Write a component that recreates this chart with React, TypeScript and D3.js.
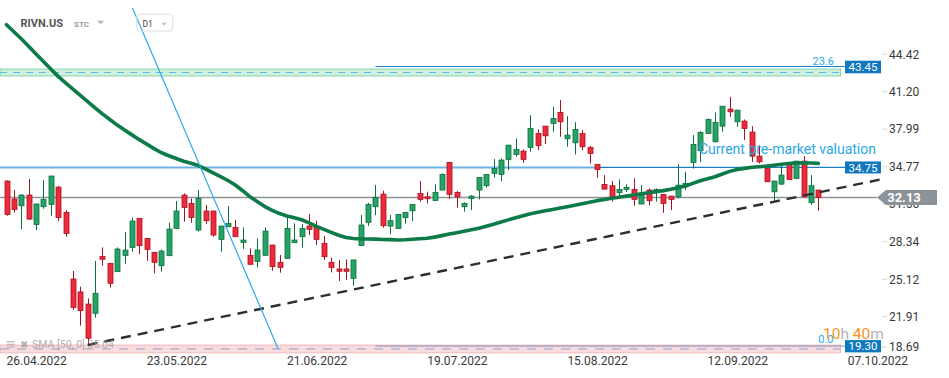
import React from "react";
import * as d3 from "d3";

const open = [33.54,32.0,31.42,32.34,29.82,31.34,31.54,33.02,30.85,25.14,24.03,22.99,22.2,27.08,26.48,25.77,27.17,27.85,30.34,28.62,27.43,26.28,27.14,29.48,32.34,31.62,29.34,30.97,30.97,28.54,29.62,29.57,28.28,27.17,26.65,27.17,28.05,26.57,26.91,28.25,28.77,29.68,29.65,28.2,26.57,26.0,26.0,25.2,28.02,30.0,31.34,32.42,29.68,29.48,30.4,30.99,32.48,32.19,31.88,32.77,35.14,32.57,31.34,32.05,32.77,33.14,34.2,34.11,35.4,35.82,36.11,36.42,37.62,38.25,38.48,39.42,37.17,36.82,37.62,36.42,34.97,33.25,33.14,32.54,32.82,32.82,31.57,32.77,32.54,32.39,32.25,32.19,33.05,35.14,36.14,37.62,36.91,38.25,39.71,38.62,38.68,37.74,35.68,34.62,32.62,33.28,34.99,33.77,35.25,31.68,32.77];
const high = [33.6,32.77,32.4,33.71,31.6,33.62,34.0,33.11,31.05,25.83,24.48,23.48,26.68,27.85,26.5,27.85,29.17,30.4,30.36,28.64,27.45,27.68,29.97,31.82,32.48,32.05,32.77,31.48,30.99,29.7,31.4,30.2,29.57,27.77,28.62,29.57,28.07,27.2,30.4,29.91,29.85,30.71,30.14,28.82,26.97,26.77,26.82,26.79,30.62,31.68,33.2,32.71,30.62,30.7,30.87,31.56,33.54,32.62,33.25,34.2,35.2,32.68,31.71,32.34,33.87,34.13,35.42,35.48,36.64,37.19,36.25,39.19,37.96,38.27,39.91,40.48,39.11,38.59,37.91,36.57,34.99,34.05,33.54,33.68,33.25,33.77,33.19,32.91,32.91,32.41,32.27,34.99,34.34,37.48,37.82,38.91,39.42,39.98,40.76,39.65,38.82,38.25,36.62,34.64,33.56,34.82,35.01,35.27,35.68,34.05,32.79];
const low = [30.57,30.85,29.42,30.2,29.34,31.17,30.57,30.11,28.77,22.51,21.14,19.48,21.83,26.28,24.4,25.77,26.45,27.48,27.28,26.71,25.63,25.77,27.12,29.46,30.05,29.97,29.2,29.85,28.77,27.48,29.6,28.75,27.71,26.38,26.14,27.15,25.85,25.68,26.89,28.23,27.83,28.91,28.05,26.77,25.71,24.97,25.05,24.57,28.0,29.68,30.62,29.54,28.99,29.46,29.9,30.1,31.77,31.62,31.86,32.75,32.02,31.25,30.91,31.05,31.97,32.97,33.85,33.54,34.48,35.62,35.11,36.05,36.19,36.71,37.77,37.34,36.48,35.82,36.19,35.05,33.82,32.83,31.77,32.14,32.62,31.42,31.55,31.45,31.77,30.82,31.05,32.05,32.77,34.62,35.19,37.6,36.85,37.77,39.05,38.19,37.05,35.19,35.05,33.46,31.85,33.19,33.66,33.75,32.17,31.48,30.99];
const close = [30.68,31.11,32.34,30.28,31.57,31.97,33.97,30.4,29.05,22.71,22.43,20.06,23.91,26.83,24.77,27.71,27.62,30.11,28.0,27.68,26.57,27.54,29.42,30.97,31.28,30.42,32.05,30.14,28.91,29.68,29.91,28.77,28.48,26.4,27.62,29.25,26.2,26.14,29.48,28.48,29.48,29.4,28.54,27.05,26.14,25.8,25.8,26.77,29.77,31.54,32.14,29.71,30.14,30.68,30.85,31.54,31.97,32.02,32.57,34.11,32.4,32.19,31.62,32.25,33.85,34.11,34.62,35.34,36.62,36.25,35.4,38.05,36.57,37.42,38.91,38.62,37.48,37.96,36.48,35.91,34.54,32.85,32.14,32.82,32.99,31.97,32.42,31.85,32.82,31.62,31.97,33.19,33.34,36.68,37.71,38.82,38.57,39.96,39.48,39.62,38.05,35.68,35.19,33.48,33.54,34.05,33.68,35.25,32.19,33.14,32.14];
const sma50 = [46.95,46.35,45.75,45.11,44.44,43.79,43.15,42.52,41.96,41.42,40.88,40.35,39.81,39.30,38.82,38.34,37.91,37.50,37.09,36.71,36.32,35.97,35.71,35.47,35.24,35.06,34.87,34.57,34.25,33.92,33.59,33.20,32.71,32.19,31.77,31.35,31.03,30.75,30.55,30.40,30.22,29.96,29.65,29.39,29.14,28.89,28.70,28.61,28.57,28.57,28.56,28.53,28.52,28.49,28.51,28.55,28.59,28.64,28.73,28.86,28.99,29.11,29.24,29.36,29.49,29.66,29.84,30.02,30.21,30.39,30.56,30.74,30.87,30.99,31.10,31.22,31.34,31.47,31.60,31.73,31.86,31.96,32.06,32.15,32.25,32.35,32.44,32.54,32.63,32.72,32.83,32.96,33.12,33.34,33.57,33.74,33.91,34.14,34.37,34.54,34.63,34.72,34.77,34.82,34.90,34.98,35.04,35.10,35.10,35.09,35.06];

const xTickLabels = ["26.04.2022","23.05.2022","21.06.2022","19.07.2022","15.08.2022","12.09.2022","07.10.2022"];
const xTickBars = [0,19,38,57,76,95,114];
const yTickLabels = ["44.42","41.20","37.99","34.77","31.56","28.34","25.12","21.91","18.69"];

const lastPrice = 32.13;
const preMarket = 34.75;
const fibTop = { level: "23.6", price: 43.45, startBar: 50 };
const fibBottom = { level: "0.0", price: 19.30, startBar: 50 };
const greenZone = [43.15, 42.55];
const pinkZone = [19.47, 18.81];
const trendBars = [11, 118.4];
const trendPrices = [19.48, 33.67];
const diagBars = [17.07, 36.83];
const diagPrices = [48.38, 19.11];

const W = 949, H = 378;
const FONT = "Roboto, 'Open Sans', sans-serif";

export default function App() {
  const x = d3.scaleLinear().domain([0, 114]).range([6.5, 6.5 + 114 * 7.38]);
  const y = d3.scaleLinear().domain([18.69, 44.42]).range([354.2, 54.2]);
  const plotRight = 840.5;
  const bw = 5;

  const smaLine = d3.line<number>().x((_, i) => x(i)).y((d) => y(d))(sma50) || "";

  const candles = open.map((o, i) => {
    const c = close[i];
    const up = c >= o;
    const fill = up ? "#25a466" : "#ee2b3d";
    const stroke = up ? "#0d6e3f" : "#a8121f";
    const cx = Math.round(x(i)) + 0.5;
    const top = y(Math.max(o, c));
    const bot = y(Math.min(o, c));
    return (
      <g key={i}>
        <line x1={cx} x2={cx} y1={y(high[i])} y2={y(low[i])} stroke={stroke} strokeWidth={1} />
        <rect x={cx - bw / 2} y={top} width={bw} height={Math.max(1, bot - top)} fill={fill} stroke={stroke} strokeWidth={0.8} />
      </g>
    );
  });

  const lpY = y(lastPrice);
  const pmY = y(preMarket);

  return (
    <svg width={W} height={H} style={{ position: "absolute", left: 0, top: 0, background: "#fff" }} fontFamily={FONT}>
      <rect x={0} y={0} width={W} height={H} fill="#fff" />
      {/* zones */}
      <rect x={0} y={y(greenZone[0])} width={plotRight} height={y(greenZone[1]) - y(greenZone[0])} fill="#cfefdf" stroke="#86d9b2" strokeWidth={1} />
      <line x1={0} x2={plotRight} y1={(y(greenZone[0]) + y(greenZone[1])) / 2} y2={(y(greenZone[0]) + y(greenZone[1])) / 2} stroke="#5bbde6" strokeWidth={1} strokeDasharray="7 6" />
      <rect x={0} y={y(pinkZone[0])} width={plotRight} height={y(pinkZone[1]) - y(pinkZone[0])} fill="#fbdcdd" stroke="#f2b8bb" strokeWidth={1} />
      <line x1={0} x2={plotRight} y1={(y(pinkZone[0]) + y(pinkZone[1])) / 2} y2={(y(pinkZone[0]) + y(pinkZone[1])) / 2} stroke="#8fa0c6" strokeWidth={1} strokeDasharray="9 8" />

      {/* fib lines */}
      <line x1={x(fibTop.startBar)} x2={845} y1={y(fibTop.price) + 1} y2={y(fibTop.price) + 1} stroke="#1c7cc4" strokeWidth={1} />
      <line x1={x(fibBottom.startBar)} x2={845} y1={y(fibBottom.price) - 1} y2={y(fibBottom.price) - 1} stroke="#7d95c8" strokeWidth={1} />
      <text x={834} y={y(fibTop.price) - 0.5} textAnchor="end" fontSize={11} fill="#2aa7e8">{fibTop.level}</text>
      <text x={833.5} y={y(fibBottom.price) - 4} textAnchor="end" fontSize={11} fill="#2aa7e8">{fibBottom.level}</text>

      {/* pre-market line */}
      <line x1={0} x2={600} y1={pmY + 0.5} y2={pmY + 0.5} stroke="#6fb3e6" strokeWidth={2} />
      <line x1={600} x2={845} y1={pmY + 0.5} y2={pmY + 0.5} stroke="#1c7fc6" strokeWidth={1.2} />
      {/* last price line */}
      <line x1={0} x2={877} y1={lpY} y2={lpY} stroke="#8e9499" strokeWidth={1.3} />

      {/* candles */}
      {candles}

      {/* SMA */}
      <path d={smaLine} fill="none" stroke="#0c7b47" strokeWidth={3.6} strokeLinejoin="round" strokeLinecap="round" />

      {/* trend line */}
      <line x1={x(trendBars[0])} y1={y(trendPrices[0])} x2={x(trendBars[1])} y2={y(trendPrices[1])} stroke="#2b2f33" strokeWidth={2.4} strokeDasharray="10 7" />
      {/* diagonal */}
      <line x1={x(diagBars[0])} y1={y(diagPrices[0])} x2={x(diagBars[1])} y2={y(diagPrices[1])} stroke="#2eaaf0" strokeWidth={1.2} />

      {/* annotation */}
      <text x={699} y={154} fontSize={14} fill="#2aa7e8">Current pre-market valuation</text>

      {/* y axis */}
      {yTickLabels.map((t) => {
        const yy = Math.min(y(+t), 347);
        return (
          <g key={t}>
            <line x1={882} x2={887} y1={yy} y2={yy} stroke="#d6d6d6" strokeWidth={1} />
            <text x={889} y={yy + 4.3} fontSize={12} fill="#3a3a3a">{t}</text>
          </g>
        );
      })}

      {/* price labels */}
      <rect x={845} y={y(fibTop.price) - 4.8} width={36} height={12.6} fill="#0f78bf" />
      <text x={863} y={y(fibTop.price) + 5.6} textAnchor="middle" fontSize={11.5} fill="#fff">{fibTop.price.toFixed(2)}</text>
      <rect x={845} y={pmY - 5.5} width={36} height={12} fill="#0f78bf" />
      <text x={863} y={pmY + 4.6} textAnchor="middle" fontSize={11.5} fill="#fff">{preMarket.toFixed(2)}</text>
      <rect x={845} y={y(fibBottom.price) - 7} width={36} height={12.3} fill="#0f78bf" />
      <text x={863} y={y(fibBottom.price) + 3.2} textAnchor="middle" fontSize={11.5} fill="#fff">{fibBottom.price.toFixed(2)}</text>
      <polygon points={`877,${lpY} 886,${lpY - 7.5} 937,${lpY - 7.5} 937,${lpY + 7.5} 886,${lpY + 7.5}`} fill="#8b9398" />
      <text x={904} y={lpY + 4.8} textAnchor="middle" fontSize={13} fontWeight="bold" fill="#fff">{lastPrice.toFixed(2)}</text>

      {/* countdown */}
      <text x={823} y={339} fontSize={15.5}>
        <tspan fill="#f7941d">10</tspan>
        <tspan fill="#b5b5b5">h </tspan>
        <tspan fill="#f7941d">40</tspan>
        <tspan fill="#b5b5b5">m</tspan>
      </text>

      {/* x axis */}
      {xTickLabels.map((t, i) => (
        <g key={t}>
          <line x1={x(xTickBars[i])} x2={x(xTickBars[i])} y1={352} y2={355} stroke="#e3e3e3" />
          <text x={x(xTickBars[i])} y={365} fontSize={12} fill="#3a3a3a">{t}</text>
        </g>
      ))}

      {/* header */}
      <text x={20.5} y={26.7} fontSize={11} fontWeight="bold" fill="#555">RIVN.US</text>
      <text x={74} y={26.7} fontSize={8} fontWeight="bold" fill="#9a9a9a">STC</text>
      <polygon points="96.7,20.8 104.3,20.8 100.5,24.2" fill="#bdbdbd" />
      <rect x={136.7} y={14.3} width={36} height={16.7} rx={3} fill="none" stroke="#e0e0e0" />
      <text x={142.5} y={26.7} fontSize={8.5} fill="#444">D1</text>
      <polygon points="161.7,22.7 166.9,22.7 164.3,25.7" fill="#bdbdbd" />

      {/* indicator legend */}
      <g opacity={0.75}>
        <rect x={6.7} y={341} width={8} height={1.3} fill="#aaa" />
        <rect x={6.7} y={343.7} width={8} height={1.3} fill="#aaa" />
        <rect x={6.7} y={346.4} width={8} height={1.3} fill="#aaa" />
        <text x={20} y={348.3} fontSize={10} fill="#999">✖</text>
        <text x={32} y={348.3} fontSize={10.5} fill="#999">SMA [50, 0] 35.04</text>
      </g>
    </svg>
  );
}
